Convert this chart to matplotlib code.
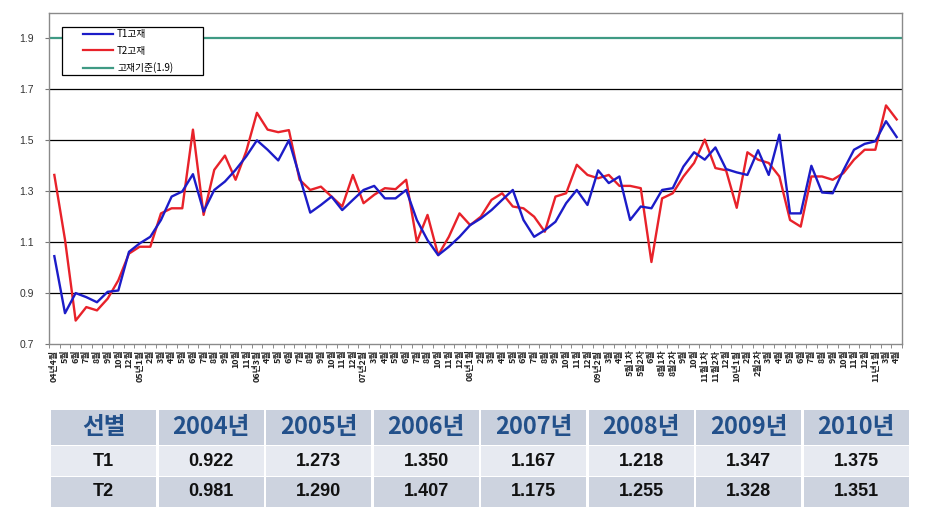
import numpy as np
import matplotlib
matplotlib.use("Agg")
from matplotlib import pyplot as plt
from matplotlib.patches import Rectangle
from matplotlib.lines import Line2D

plt.rcParams['font.family'] = ['Noto Sans CJK KR', 'DejaVu Sans']

# x categories (irregular survey months)
months = ["04년4월", "5월", "6월", "7월", "8월", "9월", "10월", "12월",
          "05년1월", "2월", "3월", "4월", "5월", "6월", "7월", "8월", "9월", "10월", "11월",
          "06년3월", "4월", "5월", "6월", "7월", "8월", "9월", "10월", "11월", "12월",
          "07년2월", "3월", "4월", "5월", "6월", "7월", "8월", "10월", "11월", "12월",
          "08년1월", "2월", "3월", "4월", "5월", "6월", "7월", "8월", "9월", "10월", "11월", "12월",
          "09년2월", "3월", "4월", "5월1차", "5월2차", "6월", "8월1차", "8월2차", "9월", "10월",
          "11월1차", "11월2차", "12월",
          "10년1월", "2월", "2월2차", "3월", "4월", "5월", "6월", "7월", "8월", "9월", "10월",
          "11월", "12월",
          "11년1월", "3월", "4월"]

t1 = [1.045, 0.821, 0.900, 0.884, 0.864, 0.905, 0.910, 1.062, 1.095, 1.121,
      1.187, 1.279, 1.299, 1.367, 1.220, 1.305, 1.338, 1.384, 1.437, 1.500,
      1.463, 1.421, 1.500, 1.358, 1.216, 1.246, 1.279, 1.226, 1.266, 1.305,
      1.321, 1.272, 1.272, 1.305, 1.187, 1.108, 1.049, 1.082, 1.121, 1.167,
      1.193, 1.226, 1.266, 1.305, 1.187, 1.121, 1.147, 1.180, 1.253, 1.305,
      1.246, 1.382, 1.332, 1.358, 1.187, 1.240, 1.233, 1.305, 1.312, 1.397,
      1.453, 1.424, 1.472, 1.387, 1.374, 1.364, 1.461, 1.364, 1.522, 1.213,
      1.213, 1.400, 1.295, 1.292, 1.382, 1.463, 1.486, 1.496, 1.575, 1.513]

t2 = [1.364, 1.110, 0.792, 0.845, 0.832, 0.878, 0.950, 1.055, 1.082, 1.082,
      1.213, 1.233, 1.233, 1.542, 1.207, 1.384, 1.440, 1.345, 1.457, 1.608,
      1.542, 1.532, 1.540, 1.345, 1.305, 1.318, 1.279, 1.240, 1.364, 1.253,
      1.286, 1.312, 1.308, 1.345, 1.101, 1.207, 1.049, 1.121, 1.213, 1.167,
      1.200, 1.266, 1.292, 1.240, 1.233, 1.200, 1.141, 1.279, 1.292, 1.404,
      1.364, 1.351, 1.364, 1.321, 1.321, 1.312, 1.022, 1.272, 1.292, 1.358,
      1.411, 1.503, 1.391, 1.382, 1.235, 1.453, 1.424, 1.411, 1.358, 1.187,
      1.161, 1.358, 1.358, 1.345, 1.371, 1.424, 1.463, 1.463, 1.637, 1.582]

limit = 1.9
series_names = ["T1고재", "T2고재", "고재기준(1.9)"]

# yearly averages table
years = ["2004년", "2005년", "2006년", "2007년", "2008년", "2009년", "2010년"]
t1_avg = [0.922, 1.273, 1.350, 1.167, 1.218, 1.347, 1.375]
t2_avg = [0.981, 1.290, 1.407, 1.175, 1.255, 1.328, 1.351]
corner = "선별"

c_t1 = "#1c1cc8"
c_t2 = "#e8222a"
c_lim = "#3f9a84"

fig = plt.figure(figsize=(9.4, 5.26), dpi=100)
ax = fig.add_axes([49 / 940, 1 - 344 / 526, 853 / 940, 331 / 526])

x = np.arange(len(months))
ax.axhline(limit, color=c_lim, lw=1.6, zorder=2)
ax.plot(x, t1, color=c_t1, lw=1.7, solid_joinstyle='round', zorder=4)
ax.plot(x, t2, color=c_t2, lw=1.7, solid_joinstyle='round', zorder=3)

ax.set_xlim(-0.5, len(months) - 0.5)
ax.set_ylim(0.7, 2.0)
yt = np.round(np.arange(0.7, 1.95, 0.2), 1)
ax.set_yticks(yt)
ax.set_yticklabels([f"{v:.1f}" for v in yt], fontsize=7.5, color="#333333",
                   family=['Liberation Sans', 'DejaVu Sans'])
for v in yt[1:-1]:
    ax.axhline(v, color="black", lw=0.9, zorder=1)

ax.set_xticks(x)
ax.set_xticklabels(months, rotation=90, fontsize=6.4, fontweight='bold',
                   color="#222222", va='top')
ax.set_xticks(np.arange(-0.5, len(months), 1.0), minor=True)
ax.tick_params(axis='x', which='major', length=0, pad=4)
ax.tick_params(axis='x', which='minor', length=3, color="#777777")
ax.tick_params(axis='y', length=3, color="#777777", pad=8)
for s in ax.spines.values():
    s.set_color("#8a8a8a")
    s.set_linewidth(1.0)

# legend box
ax.add_patch(Rectangle((13 / 853, (344 - 75) / 331), 141 / 853, 48 / 331,
                       transform=ax.transAxes, facecolor="white",
                       edgecolor="black", lw=0.9, zorder=5))
handles = [Line2D([], [], color=c_t1, lw=1.6),
           Line2D([], [], color=c_t2, lw=1.6),
           Line2D([], [], color=c_lim, lw=1.6)]
leg = ax.legend(handles, series_names, loc='upper left',
                bbox_to_anchor=(34 / 853, (344 - 29.5) / 331), frameon=False,
                fontsize=7, handlelength=3.1, handletextpad=0.4,
                labelspacing=0.65, borderpad=0.0, borderaxespad=0)
leg.set_zorder(6)

# table
tax = fig.add_axes([50 / 940, 1 - 507 / 526, 860 / 940, 97 / 526])
tax.set_xlim(0, 8)
tax.set_ylim(97, 0)
tax.axis('off')
row_top = [0, 36, 67]
row_h = [35, 30, 30]
row_bg = ["#c9d0dd", "#e7eaf1", "#cdd3df"]
rows = [[corner] + years,
        ["T1"] + [f"{v:.3f}" for v in t1_avg],
        ["T2"] + [f"{v:.3f}" for v in t2_avg]]
for r in range(3):
    for c in range(8):
        tax.add_patch(Rectangle((c + 0.01, row_top[r]), 0.98, row_h[r],
                                facecolor=row_bg[r], edgecolor='none'))
        if r == 0:
            tax.text(c + 0.5, row_top[r] + row_h[r] / 2, rows[r][c],
                     ha='center', va='center', fontsize=17,
                     fontweight='bold', color="#22508a")
        else:
            tax.text(c + 0.5, row_top[r] + row_h[r] / 2, rows[r][c],
                     ha='center', va='center', fontsize=13,
                     fontweight='bold', color="#111111",
                     family=['Liberation Sans', 'DejaVu Sans'])

fig.savefig("out.png", dpi=100)
